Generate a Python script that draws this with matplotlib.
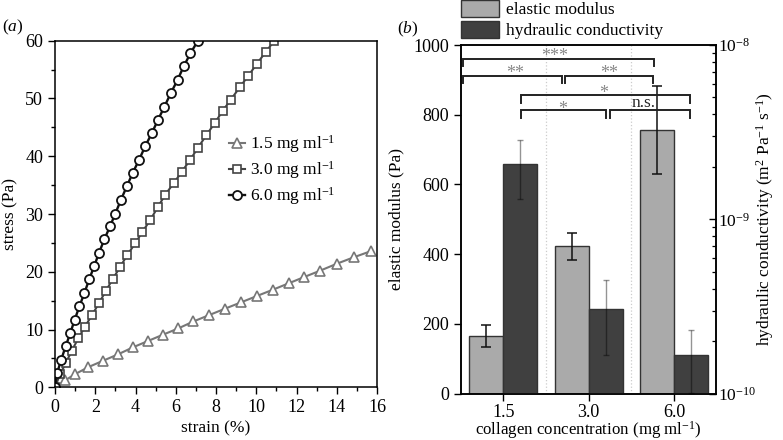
import matplotlib
matplotlib.use("Agg")
import matplotlib.pyplot as plt
import numpy as np
from matplotlib.patches import Patch
from matplotlib.ticker import MultipleLocator, LogLocator, NullFormatter

plt.rcParams['font.family'] = ['Liberation Serif', 'DejaVu Serif']
plt.rcParams['mathtext.fontset'] = 'custom'
plt.rcParams['mathtext.rm'] = 'Liberation Serif'
plt.rcParams['mathtext.it'] = 'Liberation Serif:italic'
plt.rcParams['mathtext.bf'] = 'Liberation Serif:bold'
plt.rcParams['font.size'] = 12.5

# ---------------- Panel (a) data ----------------
strain_15 = [0, 0.50, 1.01, 1.66, 2.39, 3.13, 3.86, 4.61, 5.36, 6.13, 6.88, 7.66, 8.44, 9.24,
             10.03, 10.83, 11.61, 12.39, 13.18, 14.01, 14.84, 15.72]
stress_15 = [0, 1.2, 2.3, 3.5, 4.6, 5.7, 6.9, 8.0, 9.1, 10.2, 11.4, 12.5, 13.6, 14.7,
             15.8, 16.9, 18.0, 19.1, 20.2, 21.4, 22.5, 23.6]
strain_30 = [0, 0.25, 0.53, 0.83, 1.16, 1.47, 1.84, 2.19, 2.53, 2.87, 3.23, 3.59, 3.98, 4.34,
             4.74, 5.11, 5.47, 5.89, 6.30, 6.72, 7.11, 7.51, 7.93, 8.34, 8.74, 9.17, 9.60,
             10.03, 10.46, 10.90]
stress_30 = [0, 2.25, 4.15, 6.3, 8.5, 10.4, 12.5, 14.6, 16.7, 18.75, 20.8, 22.9, 24.9, 26.9,
             29.0, 31.2, 33.3, 35.3, 37.3, 39.4, 41.5, 43.6, 45.7, 47.9, 49.8, 51.9, 53.9,
             56.0, 58.0, 60.0]
strain_60 = [0, 0.10, 0.30, 0.53, 0.76, 0.98, 1.21, 1.46, 1.70, 1.95, 2.19, 2.45, 2.74, 2.99,
             3.27, 3.57, 3.86, 4.18, 4.48, 4.81, 5.12, 5.44, 5.75, 6.09, 6.40, 6.73, 7.10]
stress_60 = [0, 2.4, 4.7, 7.1, 9.4, 11.7, 14.0, 16.3, 18.7, 21.0, 23.3, 25.6, 27.9, 30.0,
             32.4, 34.8, 37.1, 39.4, 41.7, 44.0, 46.3, 48.6, 50.9, 53.2, 55.6, 57.8, 60.0]
labels_a = [r'1.5 mg ml$^{-1}$', r'3.0 mg ml$^{-1}$', r'6.0 mg ml$^{-1}$']

# ---------------- Panel (b) data ----------------
categories = ['1.5', '3.0', '6.0']
modulus = [166, 423, 756]
modulus_lo = [135, 382, 630]
modulus_hi = [198, 462, 882]
conductivity = [2.08e-9, 3.08e-10, 1.66e-10]
conductivity_lo = [1.30e-9, 1.67e-10, 1.01e-10]
conductivity_hi = [2.84e-9, 4.47e-10, 2.31e-10]

# significance brackets: (x_left, x_right, y_bar, y_end)
bracket_x = [(-0.475, 1.766), (-0.475, 0.687), (0.722, 1.754),
             (0.207, 2.192), (0.207, 1.201), (1.248, 2.192)]
bracket_y = [(959, 940), (911, 891), (911, 891), (856, 835), (813, 791), (813, 791)]
sig_labels = ['***', '**', '**', '*', '*', 'n.s.']
sig_label_xy = [(0.605, 966), (0.137, 919), (1.246, 919), (1.176, 862), (0.695, 816), (1.645, 833)]

W, H = 783, 440
fig = plt.figure(figsize=(W / 100, H / 100), dpi=100)

# ---------------- Panel (a) ----------------
axa = fig.add_axes([55 / W, 1 - 387.3 / H, (377 - 55) / W, (387.3 - 40.7) / H])
axa.plot(strain_15, stress_15, '-^', color='#777777', mfc='white', mec='#777777',
         ms=7, mew=1.2, lw=1.5, label=labels_a[0])
axa.plot(strain_30, stress_30, '-s', color='#444444', mfc='white', mec='#444444',
         ms=6, mew=1.2, lw=1.5, label=labels_a[1])
axa.plot(strain_60, stress_60, '-o', color='#111111', mfc='white', mec='#111111',
         ms=6.5, mew=1.3, lw=1.7, label=labels_a[2])
axa.set_xlim(0, 16)
axa.set_ylim(0, 60)
axa.xaxis.set_major_locator(MultipleLocator(2))
axa.xaxis.set_minor_locator(MultipleLocator(1))
axa.yaxis.set_major_locator(MultipleLocator(10))
axa.yaxis.set_minor_locator(MultipleLocator(5))
axa.tick_params(which='both', direction='out', top=False, right=False, labelsize=13)
axa.tick_params(which='major', length=5, width=1)
axa.tick_params(which='minor', length=3, width=1)
for s in axa.spines.values():
    s.set_linewidth(1.1)
axa.set_xlabel('strain (%)', fontsize=12.5, labelpad=3)
axa.set_ylabel('stress (Pa)', fontsize=12.5, labelpad=5)
axa.legend(loc='upper left', bbox_to_anchor=(229 / W, 1 - 133 / H),
           bbox_transform=fig.transFigure, frameon=False, numpoints=1,
           handlelength=0.9, handletextpad=0.3, labelspacing=0.25,
           borderpad=0, borderaxespad=0, fontsize=12.5)
fig.text(2 / W, 1 - 27 / H, r'($\mathit{a}$)', fontsize=12.5, va='center', ha='left')

# ---------------- Panel (b) ----------------
axb = fig.add_axes([460.7 / W, 1 - 393.7 / H, (715.7 - 460.7) / W, (393.7 - 45) / H])
ax2 = axb.twinx()
x = np.arange(len(categories))
bw = 0.40
light = '#aaaaaa'
dark = '#404040'

mod = np.array(modulus)
axb.bar(x - bw / 2, mod, width=bw, color=light, edgecolor='#333333', linewidth=1.0, zorder=2)
axb.errorbar(x - bw / 2, mod, yerr=[mod - np.array(modulus_lo), np.array(modulus_hi) - mod],
             fmt='none', ecolor='#111111', elinewidth=1.1, capsize=3.5, capthick=1.1, zorder=3)
for xs in [0.5, 1.5]:
    axb.axvline(xs, color='#cccccc', lw=0.9, ls=':', zorder=1)

ax2.set_yscale('log')
ax2.set_ylim(1e-10, 1e-8)
con = np.array(conductivity)
ax2.bar(x + bw / 2, con, width=bw, color=dark, edgecolor='#333333', linewidth=1.0, zorder=2)
ax2.errorbar(x + bw / 2, con, yerr=[con - np.array(conductivity_lo), np.array(conductivity_hi) - con],
             fmt='none', ecolor=(0, 0, 0, 0.42), elinewidth=1.0, capsize=2.0, capthick=1.0, zorder=3)

axb.set_xlim(-0.5, 2.49)
axb.set_ylim(0, 1000)
axb.set_xticks(x)
axb.set_xticklabels(categories)
axb.yaxis.set_major_locator(MultipleLocator(200))
axb.tick_params(axis='both', direction='out', length=5, width=1, labelsize=13, right=False)
axb.tick_params(axis='x', pad=2.5)
ax2.yaxis.set_major_locator(LogLocator(base=10, numticks=5))
ax2.yaxis.set_minor_locator(LogLocator(base=10, subs=np.arange(2, 10), numticks=20))
ax2.yaxis.set_minor_formatter(NullFormatter())
ax2.tick_params(which='major', direction='in', length=5, width=1, labelsize=12.5, pad=2)
ax2.tick_params(which='minor', direction='in', length=3, width=0.9)
for s in list(axb.spines.values()) + list(ax2.spines.values()):
    s.set_linewidth(1.1)
for a in (axa, axb, ax2):
    a.xaxis.offsetText.set_visible(False)
    a.yaxis.offsetText.set_visible(False)

for (xl, xr), (yb, ye), lab, (lx, ly) in zip(bracket_x, bracket_y, sig_labels, sig_label_xy):
    axb.plot([xl, xl, xr, xr], [ye, yb, yb, ye], color='#222222', lw=1.4, zorder=4,
             solid_joinstyle='miter', clip_on=False)
    if lab == 'n.s.':
        axb.text(lx, ly, lab, ha='center', va='center', color='#222222', fontsize=12.5, zorder=5)
    else:
        axb.text(lx, ly, lab, ha='center', va='center', color='#888888', fontsize=13, zorder=5)

axb.set_xlabel(r'collagen concentration (mg ml$^{-1}$)', fontsize=12.2)
axb.xaxis.set_label_coords(0.5, (393.7 - 419.5) / (393.7 - 45))
axb.set_ylabel('elastic modulus (Pa)', fontsize=12.5, labelpad=6)
ax2.set_ylabel(r'hydraulic conductivity (m$^{2}$ Pa$^{-1}$ s$^{-1}$)', fontsize=12.5)
ax2.yaxis.set_label_coords((754 - 460.7) / 255, 0.5)

handles = [Patch(facecolor=light, edgecolor='#333333', lw=1.0),
           Patch(facecolor=dark, edgecolor='#333333', lw=1.0)]
fig.legend(handles, ['elastic modulus', 'hydraulic conductivity'], loc='upper left',
           bbox_to_anchor=(460.7 / W, 1.0), frameon=False, handlelength=2.2, handleheight=1.15,
           handletextpad=0.4, labelspacing=0.12, borderpad=0, borderaxespad=0, fontsize=12.5)
fig.text(397 / W, 1 - 29 / H, r'($\mathit{b}$)', fontsize=12.5, va='center', ha='left')

fig.savefig('out.png', dpi=100)
